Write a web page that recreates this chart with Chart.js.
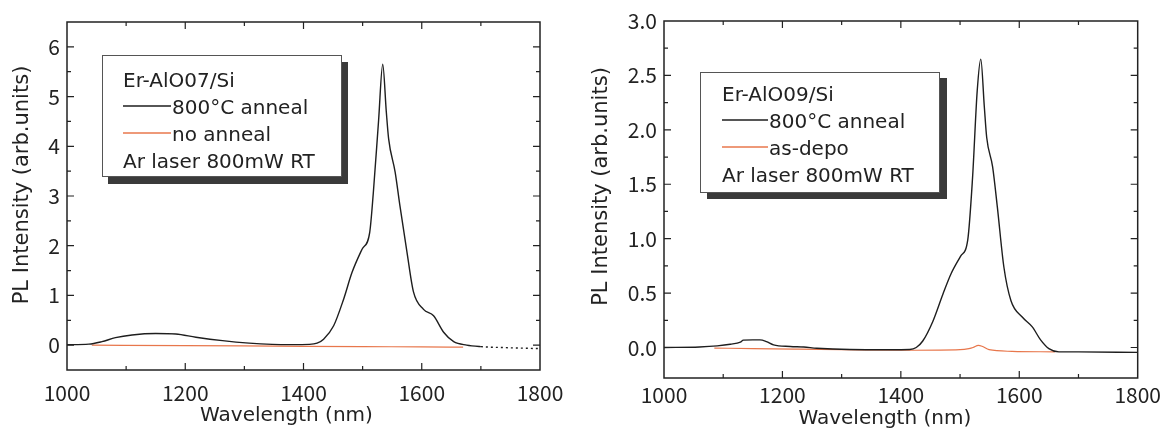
<!DOCTYPE html>
<html>
<head>
<meta charset="utf-8">
<title>Er-AlO PL spectra</title>
<script src="https://cdn.jsdelivr.net/npm/chart.js@4.4.1/dist/chart.umd.min.js"></script>
<style>
  html, body { margin: 0; padding: 0; background: #fff; }
  #wrap { position: relative; width: 1165px; height: 430px; overflow: hidden; }
  canvas { position: absolute; top: 0; }
</style>
</head>
<body>
<div id="wrap">
  <canvas id="chartA" width="580" height="430" style="left:0"></canvas>
  <canvas id="chartB" width="585" height="430" style="left:580px"></canvas>
</div>
<script>
// ---- data ----
const wlAnneal07 = [1000, 1037, 1059, 1082, 1110, 1150, 1184, 1218, 1263, 1308, 1347, 1380, 1410, 1423, 1434, 1451, 1468, 1482, 1499, 1512, 1518, 1527, 1534, 1540, 1544, 1555, 1563, 1575, 1586, 1603, 1620, 1637, 1654, 1676, 1700, 1740, 1800];
const plAnneal07 = [0.01, 0.02, 0.07, 0.15, 0.205, 0.235, 0.225, 0.16, 0.09, 0.04, 0.015, 0.01, 0.015, 0.04, 0.12, 0.39, 0.93, 1.46, 1.93, 2.27, 3.05, 4.52, 5.65, 4.7, 4.15, 3.48, 2.81, 1.87, 1.07, 0.72, 0.59, 0.26, 0.07, 0.0, -0.03, -0.05, -0.07];
const wlNoAnneal07 = [1042, 1200, 1350, 1500, 1600, 1670];
const plNoAnneal07 = [0.0, -0.01, -0.02, -0.03, -0.035, -0.04];

const wlAnneal09 = [1000, 1060, 1090, 1112, 1129, 1134, 1150, 1162, 1173, 1185, 1213, 1236, 1258, 1314, 1380, 1415, 1426, 1437, 1454, 1471, 1485, 1501, 1513, 1521, 1529, 1535, 1541, 1545, 1555, 1563, 1574, 1586, 1605, 1622, 1636, 1650, 1667, 1700, 1800];
const plAnneal09 = [0.0, 0.005, 0.015, 0.03, 0.05, 0.068, 0.07, 0.07, 0.055, 0.025, 0.01, 0.005, -0.006, -0.018, -0.02, -0.018, 0.0, 0.06, 0.24, 0.49, 0.68, 0.84, 0.99, 1.55, 2.36, 2.65, 2.21, 1.93, 1.66, 1.29, 0.74, 0.43, 0.28, 0.19, 0.07, -0.01, -0.04, -0.04, -0.045];
const wlDepo09 = [1085, 1150, 1220, 1300, 1420, 1500, 1515, 1522, 1531, 1537, 1549, 1588, 1660];
const plDepo09 = [-0.005, -0.01, -0.015, -0.02, -0.025, -0.02, -0.01, 0.0, 0.02, 0.012, -0.02, -0.035, -0.04];

const xTicks = [1000, 1200, 1400, 1600, 1800];
const xMinor = [1100, 1300, 1500, 1700];
const yTicksA = [0, 1, 2, 3, 4, 5, 6];
const yMinorA = [0.5, 1.5, 2.5, 3.5, 4.5, 5.5];
const yTicksB = [0, 0.5, 1, 1.5, 2, 2.5, 3];
const yMinorB = [0.25, 0.75, 1.25, 1.75, 2.25, 2.75];

const legendA = ['Er-AlO07/Si', '800°C anneal', 'no anneal', 'Ar laser 800mW RT'];
const legendB = ['Er-AlO09/Si', '800°C anneal', 'as-depo', 'Ar laser 800mW RT'];
const xTitle = 'Wavelength (nm)';
const yTitle = 'PL Intensity (arb.units)';

const BLACK = '#1e1e1e';
const ORANGE = '#e8774c';

Chart.defaults.font.family = '"DejaVu Sans", sans-serif';
Chart.defaults.font.size = 18;
Chart.defaults.color = '#222';

function pts(xs, ys) {
    return xs.map((v, i) => ({x: v, y: ys[i]}));
}

// frame round the plot area plus inward ticks on all four sides
const frameTicks = {
    id: 'frameTicks',
    afterDatasetsDraw(chart, args, opts) {
        const {ctx, chartArea: a, scales: {x, y}} = chart;
        ctx.save();
        ctx.strokeStyle = '#222';
        ctx.lineWidth = 1.5;
        ctx.strokeRect(a.left, a.top, a.right - a.left, a.bottom - a.top);
        ctx.lineWidth = 1.2;
        ctx.beginPath();
        const xs = x.ticks.map(t => [t.value, 7]).concat(opts.xMinor.map(v => [v, 4]));
        xs.forEach(([v, len]) => {
            if (v <= x.min || v >= x.max) return;
            const px = x.getPixelForValue(v);
            ctx.moveTo(px, a.bottom); ctx.lineTo(px, a.bottom - len);
            ctx.moveTo(px, a.top); ctx.lineTo(px, a.top + len);
        });
        const ys = y.ticks.map(t => [t.value, 7]).concat(opts.yMinor.map(v => [v, 4]));
        ys.forEach(([v, len]) => {
            if (v <= y.min || v >= y.max) return;
            const py = y.getPixelForValue(v);
            ctx.moveTo(a.left, py); ctx.lineTo(a.left + len, py);
            ctx.moveTo(a.right, py); ctx.lineTo(a.right - len, py);
        });
        ctx.stroke();
        ctx.restore();
    }
};

// boxed legend with drop shadow
const legendBox = {
    id: 'legendBox',
    afterDatasetsDraw(chart, args, o) {
        const ctx = chart.ctx;
        const ds = chart.data.datasets;
        ctx.save();
        ctx.fillStyle = '#3a3a3a';
        ctx.fillRect(o.x + o.sx, o.y + o.sy, o.w, o.h);
        ctx.fillStyle = '#fff';
        ctx.fillRect(o.x, o.y, o.w, o.h);
        ctx.strokeStyle = '#555';
        ctx.lineWidth = 1;
        ctx.strokeRect(o.x + 0.5, o.y + 0.5, o.w - 1, o.h - 1);
        ctx.font = '20px "DejaVu Sans"';
        ctx.textBaseline = 'alphabetic';
        ctx.textAlign = 'left';
        o.lines.forEach((t, i) => {
            const yb = o.base + i * o.gap;
            let tx = o.textX;
            if (i === 1 || i === 2) {
                ctx.strokeStyle = ds[i - 1].borderColor;
                ctx.lineWidth = 1.3;
                ctx.beginPath();
                ctx.moveTo(o.textX, yb - 8);
                ctx.lineTo(o.textX + o.sample, yb - 8);
                ctx.stroke();
                tx += o.sample + 1;
            }
            ctx.fillStyle = '#222';
            ctx.fillText(t, tx, yb);
        });
        ctx.restore();
    }
};

// axis captions; in the original both sit a little off the axis centre
const captions = {
    id: 'captions',
    afterDraw(chart, args, o) {
        const {ctx, chartArea: a} = chart;
        ctx.save();
        ctx.fillStyle = '#222';
        ctx.textAlign = 'center';
        ctx.textBaseline = 'middle';
        ctx.font = '20px "DejaVu Sans"';
        ctx.fillText(xTitle, (a.left + a.right) / 2 + o.dx, o.xY);
        ctx.translate(o.yX, (a.top + a.bottom) / 2 + o.dy);
        ctx.rotate(-Math.PI / 2);
        ctx.font = '21px "DejaVu Sans"';
        ctx.fillText(yTitle, 0, 0);
        ctx.restore();
    }
};

function makeChart(id, s) {
    const ctx = document.getElementById(id).getContext('2d');
    return new Chart(ctx, {
        type: 'line',
        data: {
            datasets: [{
                label: s.legend[1],
                data: pts(s.wlA, s.plA),
                borderColor: BLACK,
                borderWidth: 1.4,
                pointRadius: 0,
                cubicInterpolationMode: 'monotone',
                segment: s.dotFrom ? {borderDash: c => c.p0.parsed.x >= s.dotFrom ? [2, 3] : undefined} : undefined
            }, {
                label: s.legend[2],
                data: pts(s.wlB, s.plB),
                borderColor: ORANGE,
                borderWidth: 1.2,
                pointRadius: 0,
                cubicInterpolationMode: 'monotone'
            }]
        },
        options: {
            responsive: false,
            devicePixelRatio: 1,
            animation: false,
            events: [],
            layout: {padding: {left: 0, right: s.padR, top: s.padT, bottom: 0}},
            scales: {
                x: {
                    type: 'linear',
                    min: 1000, max: 1800,
                    grid: {display: false, drawTicks: false},
                    border: {display: false},
                    afterBuildTicks: sc => { sc.ticks = xTicks.map(v => ({value: v})); },
                    afterFit: sc => { sc.height = s.xH; },
                    ticks: {padding: s.xPad, maxRotation: 0, font: {family: '"Noto Sans CJK JP"', size: 21}, callback: v => String(v)}
                },
                y: {
                    min: s.yMin, max: s.yMax,
                    grid: {display: false, drawTicks: false},
                    border: {display: false},
                    afterBuildTicks: sc => { sc.ticks = s.yTicks.map(v => ({value: v})); },
                    afterFit: sc => { sc.width = s.yW; },
                    ticks: {padding: 7, font: {family: '"Noto Sans CJK JP"', size: 21}, callback: s.fmt}
                }
            },
            plugins: {
                legend: {display: false},
                tooltip: {enabled: false},
                frameTicks: {xMinor: xMinor, yMinor: s.yMinor},
                legendBox: s.box,
                captions: s.cap
            }
        },
        plugins: [frameTicks, legendBox, captions]
    });
}

makeChart('chartA', {
    wlA: wlAnneal07, plA: plAnneal07, wlB: wlNoAnneal07, plB: plNoAnneal07,
    legend: legendA, dotFrom: 1690,
    yMin: -0.5, yMax: 6.5, yTicks: yTicksA, yMinor: yMinorA, fmt: v => String(v),
    padR: 40, padT: 22, xH: 60, yW: 67, xPad: 10,
    cap: {dx: -17, xY: 416, yX: 23, dy: -11},
    box: {x: 102, y: 55, w: 240, h: 122, sx: 6, sy: 7, textX: 123, base: 87, gap: 27, sample: 48, lines: legendA}
});

makeChart('chartB', {
    wlA: wlAnneal09, plA: plAnneal09, wlB: wlDepo09, plB: plDepo09,
    legend: legendB, dotFrom: null,
    yMin: -0.28, yMax: 3.0, yTicks: yTicksB, yMinor: yMinorB, fmt: v => v.toFixed(1),
    padR: 26, padT: 21, xH: 52, yW: 84, xPad: 4,
    cap: {dx: -16, xY: 419, yX: 22, dy: -13},
    box: {x: 120, y: 72, w: 240, h: 121, sx: 7, sy: 6, textX: 142, base: 101, gap: 27, sample: 46, lines: legendB}
});
</script>
</body>
</html>
